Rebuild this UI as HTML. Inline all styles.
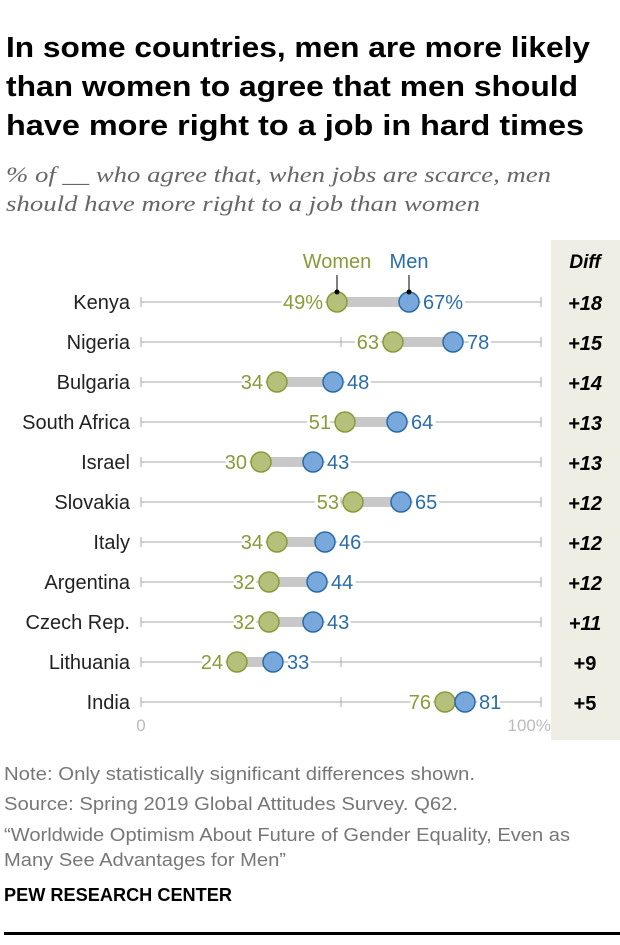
<!DOCTYPE html>
<html><head><meta charset="utf-8"><style>
body{margin:0;background:#fff;width:620px;height:940px;overflow:hidden;font-family:"Liberation Sans",sans-serif}
</style></head><body>
<svg width="620" height="940" xmlns="http://www.w3.org/2000/svg">
<g font-family="Liberation Sans, sans-serif" font-weight="bold" font-size="29" fill="#000">
<text x="6" y="57" textLength="584" lengthAdjust="spacingAndGlyphs">In some countries, men are more likely</text>
<text x="6" y="96" textLength="572" lengthAdjust="spacingAndGlyphs">than women to agree that men should</text>
<text x="6" y="135" textLength="578" lengthAdjust="spacingAndGlyphs">have more right to a job in hard times</text>
</g>
<g font-family="Liberation Serif, serif" font-style="italic" font-size="22" fill="#666">
<text x="6" y="182" textLength="545" lengthAdjust="spacingAndGlyphs">% of __ who agree that, when jobs are scarce, men</text>
<text x="6" y="211" textLength="474" lengthAdjust="spacingAndGlyphs">should have more right to a job than women</text>
</g>
<rect x="551" y="240" width="69" height="500" fill="#eeeee4"/>
<text x="585" y="268" text-anchor="middle" font-weight="bold" font-style="italic" font-size="19">Diff</text>
<g id="plot"></g>
<g font-size="18" fill="#777">
<text x="4" y="780" textLength="471" lengthAdjust="spacingAndGlyphs">Note: Only statistically significant differences shown.</text>
<text x="4" y="810" textLength="454" lengthAdjust="spacingAndGlyphs">Source: Spring 2019 Global Attitudes Survey. Q62.</text>
<text x="4" y="841" textLength="566" lengthAdjust="spacingAndGlyphs">“Worldwide Optimism About Future of Gender Equality, Even as</text>
<text x="4" y="866" textLength="282" lengthAdjust="spacingAndGlyphs">Many See Advantages for Men”</text>
</g>
<text x="4" y="901" font-size="18" font-weight="bold" fill="#000" textLength="228" lengthAdjust="spacingAndGlyphs">PEW RESEARCH CENTER</text>
<rect x="4" y="932" width="616" height="3" fill="#000"/>
</svg>
<script>
const countries=["Kenya","Nigeria","Bulgaria","South Africa","Israel","Slovakia","Italy","Argentina","Czech Rep.","Lithuania","India"];
const women=[49,63,34,51,30,53,34,32,32,24,76];
const men=[67,78,48,64,43,65,46,44,43,33,81];
const diffs=["+18","+15","+14","+13","+13","+12","+12","+12","+11","+9","+5"];
const NS="http://www.w3.org/2000/svg";
const g=document.getElementById('plot');
const X=v=>141+v*4;
const Y=i=>302+i*40;
function mk(t,a,txt){const e=document.createElementNS(NS,t);for(const k in a)e.setAttribute(k,a[k]);if(txt!=null)e.textContent=txt;g.appendChild(e);return e;}
countries.forEach((c,i)=>{
 const y=Y(i);
 let e=mk('line',{x1:X(0),x2:X(100),y1:y,y2:y,stroke:'#aaa','stroke-width':1});
 
 [0,50,100].forEach(v=>{let t=mk('line',{x1:X(v),x2:X(v),y1:y-5,y2:y+5,stroke:'#aaa','stroke-width':1});
 });
 e=mk('text',{x:130,y:y+7,'text-anchor':'end','font-size':20,fill:'#222'},c);
 
 e=mk('line',{x1:X(women[i]),x2:X(men[i]),y1:y,y2:y,stroke:'#c8c8c8','stroke-width':10});
 
 const sfx=i===0?'%':'';
 e=mk('text',{x:X(women[i])-14,y:y+7,'text-anchor':'end','font-size':20,fill:'#8a9a3a',stroke:'#fff','stroke-width':6,'paint-order':'stroke'},women[i]+sfx);
 
 e=mk('text',{x:X(men[i])+14,y:y+7,'font-size':20,fill:'#2a6ca8',stroke:'#fff','stroke-width':6,'paint-order':'stroke'},men[i]+sfx);
 
 e=mk('circle',{cx:X(women[i]),cy:y,r:10,fill:'#b5c07a',stroke:'#8a9a3a','stroke-width':1.5});
 
 e=mk('circle',{cx:X(men[i]),cy:y,r:10,fill:'#79a8dc',stroke:'#2a6ca8','stroke-width':1.5});
 
 e=mk('text',{x:585,y:y+8,'text-anchor':'middle','font-size':20,'font-weight':'bold','font-style':i<9?'italic':'normal',fill:'#000'},diffs[i]);
 
});
let e;
e=mk('line',{x1:X(women[0]),x2:X(women[0]),y1:275,y2:292,stroke:'#000','stroke-width':1});

e=mk('circle',{cx:X(women[0]),cy:292,r:2.5,fill:'#000'});

e=mk('line',{x1:X(men[0]),x2:X(men[0]),y1:275,y2:292,stroke:'#000','stroke-width':1});

e=mk('circle',{cx:X(men[0]),cy:292,r:2.5,fill:'#000'});

e=mk('text',{x:X(women[0]),y:268,'text-anchor':'middle','font-size':20,fill:'#8a9a3a'},'Women');

e=mk('text',{x:X(men[0]),y:268,'text-anchor':'middle','font-size':20,fill:'#2a6ca8'},'Men');

e=mk('text',{x:X(0),y:731,'text-anchor':'middle','font-size':17,fill:'#bbb'},'0');

e=mk('text',{x:X(100)+10,y:731,'text-anchor':'end','font-size':17,fill:'#bbb'},'100%');

</script>
</body></html>
